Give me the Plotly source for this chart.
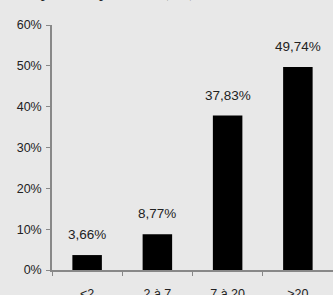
import plotly.graph_objects as go

categories = ["<2", "2 à 7", "7 à 20", ">20"]
values = [0.0366, 0.0877, 0.3783, 0.4974]
labels = ["3,66%", "8,77%", "37,83%", "49,74%"]
y_ticks = [0, 0.1, 0.2, 0.3, 0.4, 0.5, 0.6]
y_tick_text = ["0%", "10%", "20%", "30%", "40%", "50%", "60%"]

fig = go.Figure()
fig.add_trace(go.Bar(x=categories, y=values, marker=dict(color="#000000", line=dict(width=0)),
                     width=0.42, hoverinfo="skip"))

for c, v, t in zip(categories, values, labels):
    fig.add_annotation(x=c, y=v, text=t, showarrow=False, yanchor="bottom", yshift=11,
                       font=dict(family="Liberation Sans, Arial", size=13.5, color="#222222"))

fig.add_annotation(xref="paper", yref="paper", x=-0.11, y=(270 - 2.5) / 245, xanchor="left",
                   yanchor="bottom", text="Répartition par durée (ans)", showarrow=False,
                   font=dict(family="Liberation Serif, Times New Roman", size=16, color="#222222"))

fig.update_layout(
    width=333, height=295,
    margin=dict(l=52, r=0, t=25, b=25, autoexpand=False),
    paper_bgcolor="#e8e8e8", plot_bgcolor="#e8e8e8",
    showlegend=False,
    font=dict(family="Liberation Sans, Arial", size=12.5, color="#222222"),
    xaxis=dict(showline=True, linecolor="#888888", linewidth=1.5, ticks="outside", ticklen=4,
               tickcolor="#888888", tickson="boundaries", showgrid=False, ticklabelstandoff=11),
    yaxis=dict(range=[0, 0.6], tickvals=y_ticks, ticktext=y_tick_text, showline=True,
               linecolor="#888888", linewidth=1.5, ticks="outside", ticklen=4, tickcolor="#888888",
               showgrid=False, zeroline=False, ticklabelstandoff=2),
)

fig.write_html("out.html", config={"displayModeBar": False},
               post_script="document.body.style.margin='0px';document.body.style.overflow='hidden';")
